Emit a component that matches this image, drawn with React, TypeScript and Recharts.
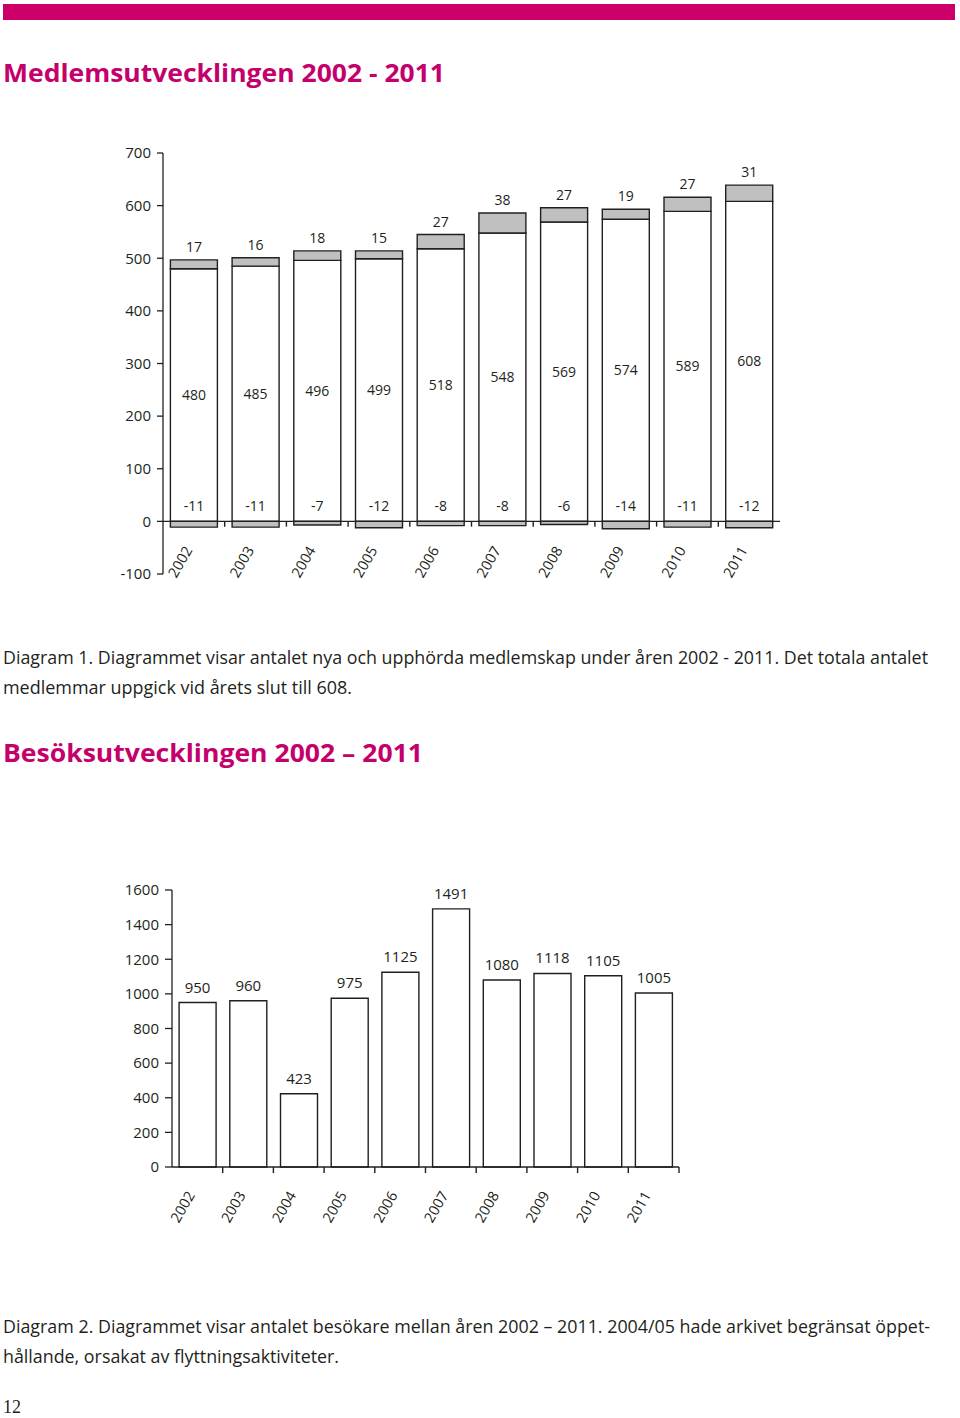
import React from 'react';
import { ComposedChart, Bar, XAxis, YAxis, ReferenceLine, LabelList } from 'recharts';

const years = ['2002', '2003', '2004', '2005', '2006', '2007', '2008', '2009', '2010', '2011'];
const members = [480, 485, 496, 499, 518, 548, 569, 574, 589, 608];
const newMembers = [17, 16, 18, 15, 27, 38, 27, 19, 27, 31];
const endedMembers = [-11, -11, -7, -12, -8, -8, -6, -14, -11, -12];
const visitors = [950, 960, 423, 975, 1125, 1491, 1080, 1118, 1105, 1005];
const ticks1 = [-100, 0, 100, 200, 300, 400, 500, 600, 700];
const ticks2 = [0, 200, 400, 600, 800, 1000, 1200, 1400, 1600];

const data1 = years.map((y, i) => ({ year: y, members: members[i], added: newMembers[i], ended: endedMembers[i] }));
const data2 = years.map((y, i) => ({ year: y, visitors: visitors[i] }));

const FONT = '"Open Sans", "Noto Sans", sans-serif';
const INK = '#231f20';
const GRAY = '#c0c0c0';
const PINK = '#cc0068';
const TITLE = '#c4006c';

const XTick1 = (props: any) => {
  const { x, y, payload } = props;
  const px = x - 1;
  const py = y - 24;
  return (
    <text x={px} y={py} transform={`rotate(-60, ${px}, ${py})`} textAnchor="end" fontSize={14.5} fontFamily={FONT} fill={INK}>
      {payload.value}
    </text>
  );
};

const XTick2 = (props: any) => {
  const { x, y, payload } = props;
  const px = x - 2;
  const py = y + 28;
  return (
    <text x={px} y={py} transform={`rotate(-60, ${px}, ${py})`} textAnchor="end" fontSize={14.5} fontFamily={FONT} fill={INK}>
      {payload.value}
    </text>
  );
};

const NegLabel = (props: any) => {
  const { x, y, width, height, value } = props;
  const zeroY = Math.min(y, y + height);
  return (
    <text x={x + width / 2} y={zeroY - 10} textAnchor="middle" fontSize={14} fontFamily={FONT} fill={INK}>
      {value}
    </text>
  );
};

const labelStyle = { fontSize: 14, fontFamily: FONT, fill: INK };

export default function App() {
  return (
    <div style={{ position: 'absolute', left: 0, top: 0, width: 960, height: 1418, background: '#fff', overflow: 'hidden' }}>
      <div style={{ position: 'absolute', left: 3, top: 4, width: 952, height: 16, background: PINK }} />

      <div style={{ position: 'absolute', left: 0, top: 0 }}>
        <ComposedChart
          width={960}
          height={600}
          data={data1}
          stackOffset="sign"
          barCategoryGap="12%"
          margin={{ top: 153, right: 180, bottom: 6, left: 100 }}
        >
          <XAxis dataKey="year" axisLine={false} tickLine={false} tickSize={0} tickMargin={0} height={20} interval={0} tick={<XTick1 />} />
          <YAxis
            domain={[-100, 700]}
            ticks={ticks1}
            interval={0}
            width={63}
            axisLine={{ stroke: INK, strokeWidth: 1.3 }}
            tickLine={{ stroke: INK, strokeWidth: 1.3 }}
            tickSize={6}
            tickMargin={6}
            tick={{ fill: INK, fontSize: 15, fontFamily: FONT }}
          />
          <Bar dataKey="members" stackId="a" fill="#ffffff" stroke={INK} strokeWidth={1.4} isAnimationActive={false}>
            <LabelList dataKey="members" position="center" style={labelStyle} />
          </Bar>
          <Bar dataKey="added" stackId="a" fill={GRAY} stroke={INK} strokeWidth={1.4} isAnimationActive={false}>
            <LabelList dataKey="added" position="top" offset={8} style={labelStyle} />
          </Bar>
          <Bar dataKey="ended" stackId="a" fill={GRAY} stroke={INK} strokeWidth={1.4} isAnimationActive={false}>
            <LabelList dataKey="ended" content={<NegLabel />} />
          </Bar>
          <ReferenceLine y={0} stroke={INK} strokeWidth={1.4} />
          {years.map((yr) => (
            <ReferenceLine
              key={yr}
              segment={[{ x: yr, y: 0 }, { x: yr, y: -10 }]}
              position="end"
              stroke={INK}
              strokeWidth={1.4}
            />
          ))}
        </ComposedChart>
      </div>

      <div style={{ position: 'absolute', left: 0, top: 850 }}>
        <ComposedChart
          width={960}
          height={400}
          data={data2}
          barCategoryGap="14%"
          margin={{ top: 40, right: 281, bottom: 23, left: 100 }}
        >
          <XAxis
            dataKey="year"
            axisLine={{ stroke: INK, strokeWidth: 1.4 }}
            tickLine={false}
            tickSize={0}
            tickMargin={0}
            height={60}
            interval={0}
            tick={<XTick2 />}
          />
          <YAxis
            domain={[0, 1600]}
            ticks={ticks2}
            interval={0}
            width={72}
            axisLine={{ stroke: INK, strokeWidth: 1.3 }}
            tickLine={{ stroke: INK, strokeWidth: 1.3 }}
            tickSize={7}
            tickMargin={6}
            tick={{ fill: INK, fontSize: 15, fontFamily: FONT }}
          />
          <Bar dataKey="visitors" fill="#ffffff" stroke={INK} strokeWidth={1.4} isAnimationActive={false}>
            <LabelList dataKey="visitors" position="top" offset={10} style={{ fontSize: 15, fontFamily: FONT, fill: INK }} />
          </Bar>
          {years.map((yr) => (
            <ReferenceLine
              key={yr}
              segment={[{ x: yr, y: 0 }, { x: yr, y: -35 }]}
              position="end"
              ifOverflow="visible"
              stroke={INK}
              strokeWidth={1.4}
            />
          ))}
        </ComposedChart>
      </div>

      <svg width={960} height={1418} style={{ position: 'absolute', left: 0, top: 0, pointerEvents: 'none' }}>
        <text x={3} y={82} fontFamily={FONT} fontWeight={700} fontSize={25} fill={TITLE} textLength={442} lengthAdjust="spacingAndGlyphs">
          Medlemsutvecklingen 2002 - 2011
        </text>
        <text x={3} y={664} fontFamily={FONT} fontSize={17.5} fill={INK} textLength={925} lengthAdjust="spacingAndGlyphs">
          Diagram 1. Diagrammet visar antalet nya och upphörda medlemskap under åren 2002 - 2011. Det totala antalet
        </text>
        <text x={3} y={694} fontFamily={FONT} fontSize={17.5} fill={INK} textLength={349} lengthAdjust="spacingAndGlyphs">
          medlemmar uppgick vid årets slut till 608.
        </text>
        <text x={3} y={762} fontFamily={FONT} fontWeight={700} fontSize={25} fill={TITLE} textLength={420} lengthAdjust="spacingAndGlyphs">
          Besöksutvecklingen 2002 – 2011
        </text>
        <text x={3} y={1333} fontFamily={FONT} fontSize={17.5} fill={INK} textLength={927} lengthAdjust="spacingAndGlyphs">
          Diagram 2. Diagrammet visar antalet besökare mellan åren 2002 – 2011. 2004/05 hade arkivet begränsat öppet-
        </text>
        <text x={3} y={1363} fontFamily={FONT} fontSize={17.5} fill={INK} textLength={336} lengthAdjust="spacingAndGlyphs">
          hållande, orsakat av flyttningsaktiviteter.
        </text>
        <text x={3} y={1413} fontFamily='"Liberation Serif", "DejaVu Serif", serif' fontSize={18} fill={INK}>
          12
        </text>
      </svg>
    </div>
  );
}
